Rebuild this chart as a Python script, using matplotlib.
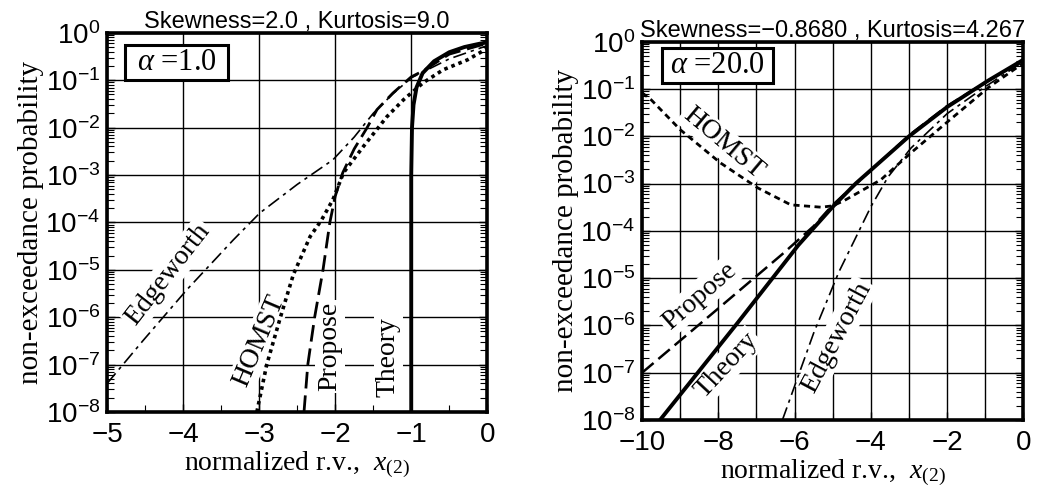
import numpy as np
import matplotlib
matplotlib.use('Agg')
import matplotlib.pyplot as plt
from matplotlib.patches import Rectangle
from matplotlib.ticker import LogLocator, MultipleLocator, NullFormatter

plt.rcParams['font.family'] = ['Liberation Sans', 'DejaVu Sans']
plt.rcParams['mathtext.fontset'] = 'custom'
plt.rcParams['mathtext.rm'] = 'Liberation Serif'
plt.rcParams['mathtext.it'] = 'Liberation Serif:italic'

# ---- left panel (alpha = 1.0), values read as (x, log10 p) ----
l_theory_x = [-1.0, -1.0, -0.99, -0.97, -0.93, -0.85, -0.7, -0.5, -0.3, -0.1, 0.0]
l_theory_y = [-8.0, -3.0, -2.0, -1.52, -1.15, -0.85, -0.6, -0.41, -0.3, -0.23, -0.2]
l_propose_x = [-2.41, -2.36, -2.27, -2.16, -2.07, -2.0, -1.9, -1.75, -1.58, -1.45, -1.24, -1.0, -0.84, -0.5, 0.0]
l_propose_y = [-8.0, -7.0, -6.0, -5.0, -4.0, -3.45, -2.95, -2.45, -2.0, -1.62, -1.27, -0.93, -0.8, -0.45, -0.22]
l_homst_x = [-3.03, -2.9, -2.72, -2.55, -2.33, -2.18, -2.03, -1.89, -1.63, -1.32, -1.1, -0.84, -0.58, -0.26, 0.0]
l_homst_y = [-8.0, -7.0, -6.0, -5.1, -4.3, -3.95, -3.52, -2.95, -2.4, -1.77, -1.41, -1.05, -0.78, -0.57, -0.33]
l_edge_x = [-5.0, -4.53, -3.95, -3.34, -2.99, -2.5, -2.03, -1.75, -1.5, -1.25, -1.0, -0.5, 0.0]
l_edge_y = [-7.4, -6.5, -5.42, -4.37, -3.8, -3.2, -2.68, -2.2, -1.7, -1.3, -0.95, -0.55, -0.27]

# ---- right panel (alpha = 20.0) ----
r_theory_x = [-9.53, -7.5, -5.9, -5.0, -4.4, -3.0, -2.0, -0.94, 0.0]
r_theory_y = [-8.0, -5.95, -4.3, -3.49, -3.0, -2.0, -1.38, -0.83, -0.38]
r_propose_x = [-10.0, -8.0, -6.29, -5.5, -5.0, -4.0, -3.0, -2.0, -1.0, 0.0]
r_propose_y = [-7.0, -5.64, -4.47, -3.9, -3.45, -2.72, -1.98, -1.36, -0.86, -0.39]
r_homst_x = [-10.0, -9.76, -9.0, -7.95, -6.97, -6.1, -5.3, -5.0, -4.7, -3.74, -2.95, -1.97, -0.92, 0.0]
r_homst_y = [-1.08, -1.23, -1.86, -2.56, -3.09, -3.45, -3.5, -3.47, -3.36, -2.92, -2.35, -1.68, -0.97, -0.45]
r_edge_x = [-6.32, -5.5, -4.84, -4.0, -3.55, -2.95, -2.0, -1.0, 0.0]
r_edge_y = [-8.0, -6.16, -4.87, -3.49, -2.86, -2.25, -1.52, -0.95, -0.42]

titles = ['Skewness=2.0 , Kurtosis=9.0', 'Skewness=\u22120.8680 , Kurtosis=4.267']
alphas = [r'$\alpha$ =1.0', r'$\alpha$ =20.0']

fig = plt.figure(figsize=(10.39, 4.97), dpi=100)
ax1 = fig.add_axes([0.103, 0.171, 0.366, 0.763])
ax2 = fig.add_axes([0.618, 0.155, 0.367, 0.761])

serif = 'Liberation Serif'


def p(v):
    return 10.0 ** np.array(v)


# left
ax1.plot(l_edge_x, p(l_edge_y), color='k', lw=1.2, dashes=(8, 3, 2, 3))
ax1.plot(l_homst_x, p(l_homst_y), color='k', lw=2.6, dashes=(1.0, 1.1))
ax1.plot(l_propose_x, p(l_propose_y), color='k', lw=2.0, dashes=(6, 2.5))
ax1.plot(l_theory_x, p(l_theory_y), color='k', lw=2.8, solid_capstyle='butt')

# right
ax2.plot(r_edge_x, p(r_edge_y), color='k', lw=1.2, dashes=(8, 3, 2, 3))
ax2.plot(r_homst_x, p(r_homst_y), color='k', lw=2.0, dashes=(2.2, 1.6))
ax2.plot(r_propose_x, p(r_propose_y), color='k', lw=1.8, dashes=(6, 2.5))
ax2.plot(r_theory_x, p(r_theory_y), color='k', lw=2.8)

# alpha boxes: (x0, y0, w, h) in axes fraction
boxes = [(0.047, 0.876, 0.271, 0.092), (0.052, 0.892, 0.292, 0.092)]

for ax, title, atxt, bx in [(ax1, titles[0], alphas[0], boxes[0]), (ax2, titles[1], alphas[1], boxes[1])]:
    ax.set_yscale('log')
    ax.set_ylim(1e-8, 1)
    ax.yaxis.set_major_locator(LogLocator(base=10, numticks=20))
    ax.yaxis.set_minor_locator(LogLocator(base=10, subs=np.arange(2, 10), numticks=20))
    ax.yaxis.set_minor_formatter(NullFormatter())
    ax.grid(True, which='major', color='k', lw=1.0)
    for s in ax.spines.values():
        s.set_linewidth(2.6)
    ax.tick_params(which='both', direction='in', right=True, labelsize=20)
    ax.tick_params(axis='y', pad=5)
    ax.tick_params(axis='x', pad=7)
    ax.tick_params(which='major', length=6, width=1)
    ax.tick_params(which='minor', length=5, width=0.8)
    ax.set_title(title, fontsize=17, pad=3)
    ax.set_ylabel('non-exceedance probability', family=serif, fontsize=21, labelpad=1)
    ax.set_xlabel('normalized r.v.,  $x_{(2)}$', family=serif, fontsize=20, labelpad=1)
    ax.add_patch(Rectangle(bx[:2], bx[2], bx[3], transform=ax.transAxes, fc='white',
                           ec='k', lw=2.2, zorder=5))
    ax.text(bx[0] + bx[2] / 2, bx[1] + bx[3] / 2, atxt, transform=ax.transAxes, family=serif,
            fontsize=22, va='center', ha='center', zorder=6)

ax1.set_xlim(-5, 0)
ax2.set_xlim(-10, 0)
ax1.xaxis.set_major_locator(MultipleLocator(1))
ax1.xaxis.set_minor_locator(MultipleLocator(0.5))
ax2.xaxis.set_major_locator(MultipleLocator(2))
ax2.xaxis.set_minor_locator(MultipleLocator(1))
ax2.grid(True, which='minor', axis='x', color='k', lw=1.0)
ax1.set_xticks([-5, -4, -3, -2, -1, 0])
ax1.set_xticklabels(['\u22125', '\u22124', '\u22123', '\u22122', '\u22121', '0'])
ax2.set_xticks([-10, -8, -6, -4, -2, 0])
ax2.set_xticklabels(['\u221210', '\u22128', '\u22126', '\u22124', '\u22122', '0'])

# curve labels sit above the grid but below the curves
lbl = dict(family=serif, fontsize=20, ha='center', va='center', zorder=1.8,
           bbox=dict(boxstyle='square,pad=0.08', fc='white', ec='none'))
ax1.text(-4.2, 10 ** -5.1, 'Edgeworth', rotation=52, **lbl)
ax1.text(-3.0, 10 ** -6.5, 'HOMST', rotation=67, **lbl)
ax1.text(-2.07, 10 ** -6.62, 'Propose', rotation=90, **lbl)
ax1.text(-1.3, 10 ** -6.84, 'Theory', rotation=90, **lbl)

ax2.text(-7.87, 10 ** -2.14, 'HOMST', rotation=-40, **lbl)
ax2.text(-8.5, 10 ** -5.38, 'Propose', rotation=41, **lbl)
ax2.text(-7.78, 10 ** -6.85, 'Theory', rotation=47, **lbl)
ax2.text(-4.9, 10 ** -6.25, 'Edgeworth', rotation=62, **lbl)

fig.savefig('out.png', dpi=100)
